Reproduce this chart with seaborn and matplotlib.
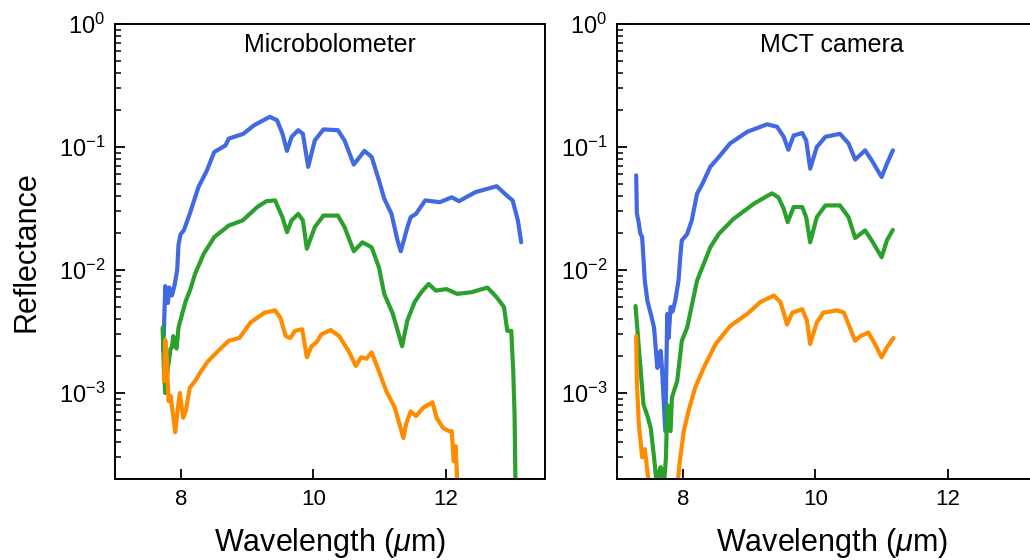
import matplotlib
matplotlib.use("Agg")
import matplotlib.pyplot as plt
import seaborn as sns
import pandas as pd

# ---------------- data ----------------
# Microbolometer panel
mb_blue_x = [7.73, 7.75, 7.76, 7.78, 7.80, 7.82, 7.86, 7.90, 7.94, 7.96, 7.99, 8.04, 8.13, 8.26, 8.39,
             8.50, 8.67, 8.72, 8.94, 9.10, 9.34, 9.45, 9.53, 9.60, 9.67, 9.77, 9.84, 9.92, 10.02, 10.15,
             10.37, 10.47, 10.61, 10.77, 10.88, 10.99, 11.07, 11.18, 11.27, 11.32, 11.42, 11.47, 11.55,
             11.69, 11.91, 12.09, 12.20, 12.45, 12.77, 12.93, 13.01, 13.09, 13.14]
mb_blue_y = [2.2e-3, 5.0e-3, 7.4e-3, 6.5e-3, 5.4e-3, 7.2e-3, 6.2e-3, 7.5e-3, 0.010, 0.016, 0.0195, 0.021,
             0.0286, 0.047, 0.0646, 0.091, 0.103, 0.117, 0.128, 0.150, 0.176, 0.165, 0.129, 0.093, 0.121,
             0.137, 0.128, 0.069, 0.113, 0.139, 0.137, 0.113, 0.072, 0.093, 0.083, 0.0535, 0.038, 0.0286,
             0.0174, 0.0142, 0.0223, 0.0269, 0.0286, 0.0368, 0.0356, 0.039, 0.0363, 0.043, 0.048, 0.040,
             0.0368, 0.0253, 0.0168]

mb_green_x = [7.72, 7.74, 7.76, 7.80, 7.84, 7.86, 7.88, 7.90, 7.93, 7.96, 8.02, 8.07, 8.14, 8.21, 8.34,
              8.50, 8.72, 8.93, 9.15, 9.29, 9.42, 9.53, 9.60, 9.67, 9.77, 9.84, 9.90, 10.02, 10.15, 10.37,
              10.47, 10.61, 10.74, 10.88, 10.99, 11.07, 11.20, 11.34, 11.42, 11.53, 11.63, 11.74, 11.85,
              12.01, 12.17, 12.39, 12.63, 12.77, 12.88, 12.93, 12.99, 13.02, 13.04, 13.06]
mb_green_y = [3.4e-3, 1.5e-3, 1.0e-3, 1.6e-3, 2.3e-3, 2.35e-3, 2.9e-3, 2.6e-3, 2.3e-3, 3.4e-3, 4.5e-3,
              5.6e-3, 7.0e-3, 9.3e-3, 0.0135, 0.0185, 0.023, 0.0253, 0.0325, 0.0363, 0.0368, 0.0269,
              0.0203, 0.0253, 0.0286, 0.0253, 0.0149, 0.0223, 0.0277, 0.0277, 0.0223, 0.0142, 0.0168,
              0.0153, 0.0105, 6.4e-3, 4.4e-3, 2.4e-3, 3.9e-3, 5.5e-3, 6.6e-3, 7.7e-3, 6.8e-3, 7.0e-3,
              6.4e-3, 6.6e-3, 7.2e-3, 6.0e-3, 5.0e-3, 3.2e-3, 3.2e-3, 1.5e-3, 6.7e-4, 1.0e-4]

mb_orange_x = [7.74, 7.76, 7.78, 7.81, 7.84, 7.88, 7.91, 7.95, 7.98, 8.03, 8.07, 8.13, 8.21, 8.30, 8.40,
               8.56, 8.72, 8.88, 9.05, 9.26, 9.42, 9.50, 9.58, 9.65, 9.72, 9.83, 9.90, 9.97, 10.05, 10.12,
               10.26, 10.39, 10.53, 10.64, 10.72, 10.80, 10.88, 10.99, 11.10, 11.23, 11.36, 11.40, 11.47,
               11.55, 11.66, 11.80, 11.86, 11.96, 12.05, 12.09, 12.12, 12.15, 12.19]
mb_orange_y = [1.25e-3, 2.7e-3, 2.0e-3, 8.6e-4, 9.5e-4, 6.5e-4, 4.8e-4, 7.5e-4, 1.0e-3, 6.3e-4, 7.1e-4,
               1.1e-3, 1.25e-3, 1.5e-3, 1.8e-3, 2.2e-3, 2.66e-3, 2.8e-3, 3.75e-3, 4.5e-3, 4.7e-3, 4.1e-3,
               2.9e-3, 2.8e-3, 3.2e-3, 3.3e-3, 1.95e-3, 2.4e-3, 2.6e-3, 3.0e-3, 3.25e-3, 2.9e-3, 2.2e-3,
               1.66e-3, 1.95e-3, 1.9e-3, 2.14e-3, 1.5e-3, 1.04e-3, 7.6e-4, 4.3e-4, 5.6e-4, 7.1e-4, 6.5e-4,
               7.6e-4, 8.4e-4, 6.3e-4, 5.2e-4, 4.9e-4, 4.9e-4, 2.8e-4, 3.7e-4, 1.2e-4]

# MCT camera panel
mct_blue_x = [7.29, 7.30, 7.33, 7.35, 7.38, 7.40, 7.42, 7.46, 7.52, 7.56, 7.61, 7.64, 7.66, 7.68, 7.73,
              7.76, 7.78, 7.81, 7.84, 7.88, 7.93, 7.96, 7.98, 8.06, 8.13, 8.21, 8.29, 8.41, 8.54, 8.71,
              8.97, 9.27, 9.42, 9.52, 9.59, 9.67, 9.80, 9.86, 9.92, 10.02, 10.15, 10.37, 10.50, 10.60,
              10.75, 10.85, 11.00, 11.08, 11.17]
mct_blue_y = [0.0588, 0.029, 0.024, 0.020, 0.0185, 0.0125, 8.2e-3, 5.6e-3, 4.2e-3, 3.4e-3, 1.6e-3, 2.0e-3,
              2.2e-3, 1.6e-3, 4.9e-4, 4.4e-3, 2.8e-3, 5.0e-3, 4.6e-3, 5.6e-3, 8.2e-3, 0.0135, 0.0174,
              0.0196, 0.0253, 0.0417, 0.050, 0.069, 0.083, 0.107, 0.133, 0.153, 0.146, 0.121, 0.095, 0.124,
              0.130, 0.113, 0.0667, 0.100, 0.121, 0.128, 0.107, 0.079, 0.094, 0.078, 0.057, 0.073, 0.094]

mct_green_x = [7.28, 7.33, 7.40, 7.46, 7.51, 7.56, 7.60, 7.63, 7.66, 7.70, 7.74, 7.76, 7.81, 7.83, 7.91,
               7.98, 8.06, 8.21, 8.41, 8.54, 8.76, 9.07, 9.34, 9.44, 9.52, 9.58, 9.67, 9.80, 9.86, 9.92,
               10.02, 10.15, 10.37, 10.50, 10.60, 10.75, 10.85, 11.00, 11.08, 11.17]
mct_green_y = [5.1e-3, 2.35e-3, 8.1e-4, 6.5e-4, 5.2e-4, 3.0e-4, 1.8e-4, 2.2e-4, 2.5e-4, 1.5e-4, 3.0e-4,
               8.0e-4, 4.9e-4, 9.2e-4, 1.25e-3, 2.66e-3, 3.4e-3, 8.2e-3, 0.0153, 0.0197, 0.026, 0.0346,
               0.042, 0.039, 0.0315, 0.0245, 0.0325, 0.0325, 0.0269, 0.0168, 0.0269, 0.0335, 0.0335,
               0.0269, 0.0182, 0.021, 0.0174, 0.0127, 0.0174, 0.0212]

mct_orange_x = [7.29, 7.30, 7.33, 7.38, 7.42, 7.46, 7.50, 7.70, 7.90, 7.95, 8.01, 8.08, 8.18, 8.31, 8.49,
                8.71, 8.97, 9.17, 9.37, 9.47, 9.52, 9.57, 9.65, 9.80, 9.87, 9.92, 10.02, 10.12, 10.33,
                10.43, 10.52, 10.60, 10.68, 10.80, 10.90, 11.00, 11.08, 11.18]
mct_orange_y = [2.9e-3, 1.25e-3, 5.6e-4, 3.0e-4, 3.5e-4, 2.3e-4, 1.5e-4, 1.0e-4, 1.5e-4, 2.8e-4, 4.9e-4,
                7.1e-4, 1.1e-3, 1.6e-3, 2.5e-3, 3.5e-3, 4.4e-3, 5.5e-3, 6.2e-3, 5.5e-3, 4.5e-3, 3.6e-3,
                4.5e-3, 4.8e-3, 3.9e-3, 2.5e-3, 3.75e-3, 4.5e-3, 4.7e-3, 4.5e-3, 3.4e-3, 2.66e-3, 2.9e-3,
                3.1e-3, 2.5e-3, 1.95e-3, 2.35e-3, 2.8e-3]

panel_titles = ["Microbolometer", "MCT camera"]
x_ticks = [8, 10, 12]
x_label = "Wavelength ($\\mu$m)"
y_label = "Reflectance"
colors = ["#4169e1", "#2ca02c", "#ff8c00"]

# ---------------- style ----------------
sns.set_style("ticks")
plt.rcParams["font.family"] = ["Liberation Sans", "DejaVu Sans"]
plt.rcParams["mathtext.fontset"] = "custom"
plt.rcParams["mathtext.rm"] = "Liberation Sans"
plt.rcParams["mathtext.it"] = "Liberation Sans:italic"
plt.rcParams["mathtext.bf"] = "Liberation Sans:bold"
plt.rcParams["text.color"] = "black"
plt.rcParams["axes.labelcolor"] = "black"
plt.rcParams["xtick.color"] = "black"
plt.rcParams["ytick.color"] = "black"

fig = plt.figure(figsize=(10.3, 5.6), dpi=100)
W, H = 1030.0, 560.0
axL = fig.add_axes([115 / W, 81 / H, 430 / W, 455 / H])
axR = fig.add_axes([617 / W, 81 / H, 430 / W, 455 / H])

panels = [
    (axL, [(mb_blue_x, mb_blue_y), (mb_green_x, mb_green_y), (mb_orange_x, mb_orange_y)]),
    (axR, [(mct_blue_x, mct_blue_y), (mct_green_x, mct_green_y), (mct_orange_x, mct_orange_y)]),
]

for (ax, series), title in zip(panels, panel_titles):
    for (xs, ys), c in zip(series, colors):
        df = pd.DataFrame({"wl": xs, "R": ys})
        sns.lineplot(data=df, x="wl", y="R", ax=ax, color=c, linewidth=3.0,
                     sort=False, estimator=None, legend=False)
    ax.set_yscale("log")
    ax.set_ylim(2e-4, 1)
    ax.set_xlim(7, 13.5)
    ax.set_xticks(x_ticks)
    ax.tick_params(which="both", direction="in", top=False, right=False,
                   colors="black", pad=7)
    ax.tick_params(axis="x", labelsize=16)
    ax.tick_params(axis="y", labelsize=17)
    ax.tick_params(which="major", length=7, width=1.3)
    ax.tick_params(which="minor", length=4.5, width=1.1)
    for sp in ax.spines.values():
        sp.set_color("black")
        sp.set_linewidth(1.4)
    ax.set_xlabel(x_label, fontsize=22, color="black")
    ax.xaxis.set_label_coords(0.5, -0.103)
    ax.set_ylabel("")
    ax.text(0.5, 0.954, title, transform=ax.transAxes, ha="center", va="center",
            fontsize=18, color="black")

axL.set_ylabel(y_label, fontsize=22, color="black")
axL.yaxis.set_label_coords(-0.172, 0.5)

fig.savefig("out.png", dpi=100)
